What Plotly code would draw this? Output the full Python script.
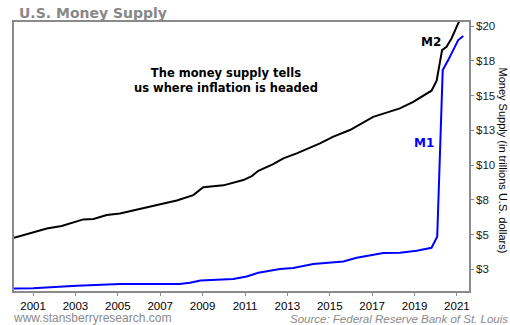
import plotly.graph_objects as go

# M2 money supply (trillions USD)
m2_year = [2000.1, 2000.86, 2001.65, 2002.35, 2003.37, 2003.85, 2004.48, 2005.1, 2006.36, 2007.0,
           2007.78, 2008.56, 2009.03, 2009.98, 2010.92, 2011.32, 2011.63, 2012.33, 2012.81, 2013.44,
           2014.54, 2015.17, 2015.95, 2017.05, 2018.31, 2018.94, 2019.8, 2020.04, 2020.3, 2020.51,
           2020.75, 2021.06, 2021.2]
m2_value = [4.77, 5.09, 5.44, 5.61, 6.09, 6.12, 6.40, 6.52, 6.96, 7.20,
            7.45, 7.84, 8.40, 8.54, 8.92, 9.21, 9.59, 10.07, 10.48, 10.84,
            11.56, 12.04, 12.52, 13.47, 14.08, 14.55, 15.35, 16.05, 18.27, 18.51,
            19.12, 20.19, 20.6]

# M1 money supply (trillions USD)
m1_year = [2000.1, 2001.0, 2003.06, 2005.1, 2007.9, 2008.4, 2008.9, 2009.8, 2010.45, 2011.08,
           2011.63, 2012.65, 2013.28, 2014.22, 2015.33, 2015.64, 2016.27, 2017.53, 2018.31, 2019.1,
           2019.8, 2020.07, 2020.33, 2020.59, 2021.06, 2021.3]
m1_value = [1.12, 1.13, 1.32, 1.44, 1.44, 1.53, 1.70, 1.78, 1.80, 1.98,
            2.25, 2.52, 2.59, 2.88, 3.07, 3.07, 3.33, 3.67, 3.69, 3.83,
            4.05, 4.84, 16.83, 17.55, 18.99, 19.28]

x_ticks = [2001, 2003, 2005, 2007, 2009, 2011, 2013, 2015, 2017, 2019, 2021]
x_tick_labels = [str(v) for v in x_ticks]
y_ticks = [2.5, 5, 7.5, 10, 12.5, 15, 17.5, 20]
y_tick_labels = ["$3", "$5", "$8", "$10", "$13", "$15", "$18", "$20"]

fig = go.Figure()
fig.add_trace(go.Scatter(x=m2_year, y=m2_value, mode="lines", name="M2",
                         line=dict(color="#000000", width=2)))
fig.add_trace(go.Scatter(x=m1_year, y=m1_value, mode="lines", name="M1",
                         line=dict(color="#0000FF", width=2)))

axis_col = "#8a8a8a"
fig.update_layout(
    width=510, height=325,
    margin=dict(l=14, r=41, t=22, b=34),
    paper_bgcolor="white", plot_bgcolor="white",
    showlegend=False,
    font=dict(family="Liberation Sans, Arial, sans-serif", size=12, color="#000"),
    xaxis=dict(range=[2000.1, 2021.57], tickvals=x_ticks, ticktext=x_tick_labels,
               showgrid=False, zeroline=False, showline=True, linecolor=axis_col, linewidth=1.5,
               mirror=True, ticks="outside", ticklen=3, tickcolor=axis_col,
               tickfont=dict(size=11.5, color="#000")),
    yaxis=dict(range=[0.94, 20.29], tickvals=y_ticks, ticktext=y_tick_labels, side="right",
               showgrid=False, zeroline=False, showline=True, linecolor=axis_col, linewidth=1.5,
               mirror=True, ticks="outside", ticklen=3, tickcolor=axis_col,
               tickfont=dict(size=11.5, color="#222")),
)

fig.add_annotation(text="<b>U.S. Money Supply</b>", xref="paper", yref="paper",
                   x=0.006, y=1.0, xanchor="left", yanchor="bottom", yshift=-1, showarrow=False,
                   font=dict(family="DejaVu Sans, Verdana, sans-serif", size=14, color="#888888"))
fig.add_annotation(text="<b>The money supply tells<br>us where inflation is headed</b>",
                   xref="x", yref="y", x=2010.1, y=16.05, showarrow=False,
                   font=dict(family="DejaVu Sans, Verdana, sans-serif", size=11.5, color="#000"))
fig.add_annotation(text="<b>M2</b>", xref="x", yref="y", x=2019.8, y=18.85, showarrow=False,
                   font=dict(family="DejaVu Sans, Verdana, sans-serif", size=12, color="#000"))
fig.add_annotation(text="<b>M1</b>", xref="x", yref="y", x=2019.45, y=11.58, showarrow=False,
                   font=dict(family="DejaVu Sans, Verdana, sans-serif", size=12, color="#0000FF"))
fig.add_annotation(text="Money Supply (in trillions U.S. dollars)", xref="paper", yref="paper",
                   x=1.0747, y=0.485, textangle=90, showarrow=False, xanchor="center", yanchor="middle",
                   font=dict(size=11, color="#000"))
fig.add_annotation(text="www.stansberryresearch.com", xref="paper", yref="paper",
                   x=-0.006, y=-0.1004, xanchor="left", yanchor="middle", showarrow=False,
                   font=dict(size=12, color="#8a8a8a"))
fig.add_annotation(text="<i>Source: Federal Reserve Bank of St. Louis</i>", xref="paper", yref="paper",
                   x=1.09, y=-0.104, xanchor="right", yanchor="middle", showarrow=False,
                   font=dict(size=11.5, color="#8a8a8a"))

fig.write_html("out.html")
